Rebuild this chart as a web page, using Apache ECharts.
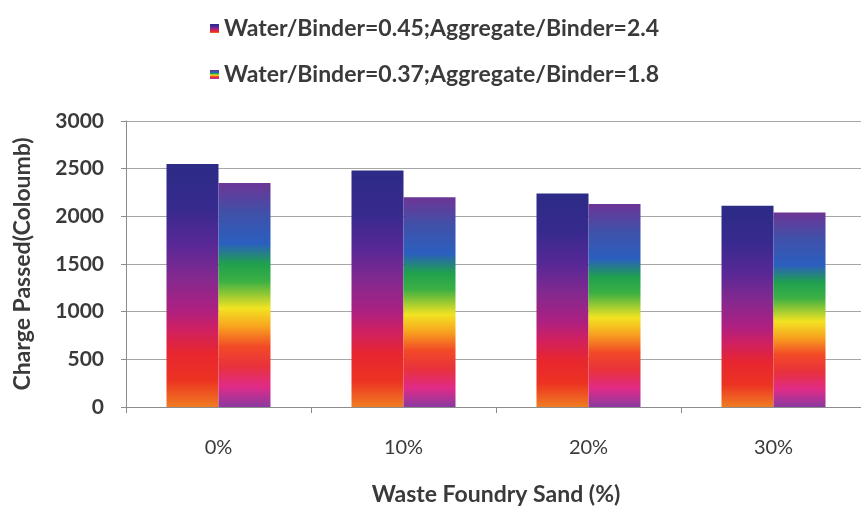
<!DOCTYPE html>
<html>
<head>
<meta charset="utf-8">
<script src="https://cdn.jsdelivr.net/npm/echarts@6/dist/echarts.min.js"></script>
<style>
  html, body { margin: 0; padding: 0; background: #fff; }
  #chart { width: 861px; height: 509px; }
</style>
</head>
<body>
<div id="chart"></div>
<script>
// Charge passed (RCPT) for each waste foundry sand replacement level
const categories = ['0%', '10%', '20%', '30%'];
const seriesNames = [
  'Water/Binder=0.45;Aggregate/Binder=2.4',
  'Water/Binder=0.37;Aggregate/Binder=1.8'
];
const mixA = [2550, 2480, 2240, 2110];
const mixB = [2350, 2200, 2130, 2040];
const yTicks = { min: 0, max: 3000, interval: 500 };

const FONT = 'Lato, "Open Sans", sans-serif';
const TEXT = '#3a3a3a';

// Per-bar vertical fills, top to bottom
const fillA = new echarts.graphic.LinearGradient(0, 0, 0, 1, [
  { offset: 0.00, color: '#2c2b86' },
  { offset: 0.18, color: '#372a8e' },
  { offset: 0.33, color: '#572896' },
  { offset: 0.47, color: '#84298f' },
  { offset: 0.60, color: '#ad2081' },
  { offset: 0.68, color: '#cf2062' },
  { offset: 0.78, color: '#e7262f' },
  { offset: 0.89, color: '#ec3322' },
  { offset: 1.00, color: '#f07c22' }
]);
const fillB = new echarts.graphic.LinearGradient(0, 0, 0, 1, [
  { offset: 0.00, color: '#6d3596' },
  { offset: 0.13, color: '#4150a8' },
  { offset: 0.27, color: '#2b5fbf' },
  { offset: 0.36, color: '#20a04e' },
  { offset: 0.44, color: '#3cb043' },
  { offset: 0.52, color: '#b6d22e' },
  { offset: 0.56, color: '#f2e322' },
  { offset: 0.64, color: '#f8a41f' },
  { offset: 0.73, color: '#f24a27' },
  { offset: 0.82, color: '#e8313c' },
  { offset: 0.91, color: '#e02b88' },
  { offset: 1.00, color: '#8a3aa0' }
]);

const chart = echarts.init(document.getElementById('chart'), null, { renderer: 'canvas' });
chart.setOption({
  backgroundColor: '#ffffff',
  animation: false,
  legend: {
    orient: 'vertical',
    left: 205,
    top: 12,
    itemGap: 23,
    itemWidth: 9,
    itemHeight: 9,
    icon: 'rect',
    textStyle: { fontFamily: FONT, fontSize: 23, fontWeight: 'bold', color: TEXT },
    data: seriesNames
  },
  grid: {
    left: 126, right: -5, top: 121, bottom: 102,
    containLabel: false,
    outerBoundsMode: 'none'
  },
  xAxis: {
    type: 'category',
    data: categories,
    boundaryGap: true,
    axisLine: { lineStyle: { color: '#8c8c8c', width: 1 } },
    axisTick: { show: true, length: 6, lineStyle: { color: '#8c8c8c' } },
    axisLabel: { fontFamily: FONT, fontSize: 20, color: TEXT, margin: 31 },
    name: 'Waste Foundry Sand (%)',
    nameLocation: 'middle',
    nameGap: 76,
    nameTextStyle: { fontFamily: FONT, fontSize: 23, fontWeight: 'bold', color: TEXT }
  },
  yAxis: {
    type: 'value',
    min: yTicks.min,
    max: yTicks.max,
    interval: yTicks.interval,
    axisLine: { show: true, lineStyle: { color: '#8c8c8c', width: 1 } },
    axisTick: { show: true, length: 5, lineStyle: { color: '#8c8c8c' } },
    splitLine: { show: true, lineStyle: { color: '#a6a6a6', width: 1 } },
    axisLabel: {
      fontFamily: FONT, fontSize: 21, fontWeight: 'bold', color: TEXT, margin: 22,
      formatter: (v) => String(v)
    },
    name: 'Charge Passed(Coloumb)',
    nameLocation: 'middle',
    nameGap: 92,
    nameRotate: 90,
    nameTextStyle: { fontFamily: FONT, fontSize: 23, fontWeight: 'bold', color: TEXT }
  },
  series: [
    {
      name: seriesNames[0],
      type: 'bar',
      data: mixA,
      barWidth: 52,
      barGap: '0%',
      itemStyle: { color: fillA }
    },
    {
      name: seriesNames[1],
      type: 'bar',
      data: mixB,
      barWidth: 52,
      barGap: '0%',
      itemStyle: { color: fillB }
    }
  ]
});
</script>
</body>
</html>
